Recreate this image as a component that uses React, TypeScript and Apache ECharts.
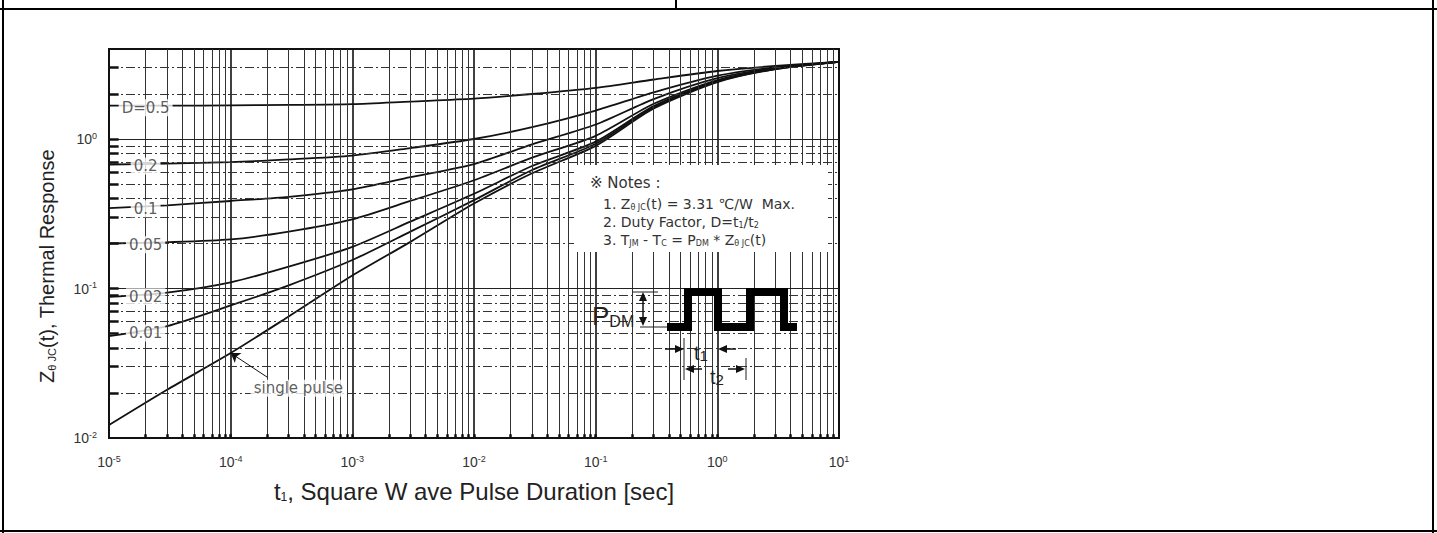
import React, { useEffect, useRef } from 'react';
import * as echarts from 'echarts';

// ---- data ----
const pulseDuration = [1e-5, 3e-5, 1e-4, 3e-4, 1e-3, 3e-3, 1e-2, 3e-2, 0.1, 0.3, 1, 3, 10];
const zD050 = [1.67, 1.67, 1.68, 1.69, 1.71, 1.78, 1.86, 2.0, 2.2, 2.5, 2.85, 3.08, 3.28];
const zD020 = [0.675, 0.685, 0.7, 0.73, 0.775, 0.87, 1.0, 1.2, 1.55, 2.05, 2.65, 3.02, 3.28];
const zD010 = [0.345, 0.36, 0.385, 0.41, 0.46, 0.555, 0.68, 0.92, 1.25, 1.85, 2.55, 2.98, 3.28];
const zD005 = [0.2, 0.204, 0.213, 0.24, 0.29, 0.385, 0.53, 0.75, 1.05, 1.72, 2.48, 2.96, 3.28];
const zD002 = [0.088, 0.094, 0.11, 0.14, 0.19, 0.28, 0.43, 0.66, 0.96, 1.66, 2.44, 2.95, 3.28];
const zD001 = [0.048, 0.056, 0.077, 0.105, 0.155, 0.24, 0.39, 0.62, 0.93, 1.63, 2.42, 2.94, 3.28];
const zSingle = [0.0122, 0.021, 0.037, 0.065, 0.122, 0.205, 0.37, 0.59, 0.9, 1.6, 2.4, 2.93, 3.28];

const curveNames = ['D=0.5', '0.2', '0.1', '0.05', '0.02', '0.01', 'single pulse'];
const curveValues = [zD050, zD020, zD010, zD005, zD002, zD001, zSingle];

// curve label anchors
const curveLabelT = 2e-5;
const curveLabelZ = [1.67, 0.68, 0.352, 0.202, 0.091, 0.052];
const singleLabel = { t: 3.6e-4, z: 0.0222 };
const singleArrowFrom = { t: 2.0e-4, z: 0.0255 };
const singleArrowTo = { t: 1.0e-4, z: 0.037 };

const xMin = 1e-5;
const xMax = 10;
const yMin = 0.01;
const yMax = 4;
const xDecades = [-5, -4, -3, -2, -1, 0];
const yDecades = [-2, -1, 0];
const multipliers = [1, 2, 3, 4, 5, 6, 7, 8, 9];

const FONT = '"Liberation Sans", Arial, sans-serif';
const WIDE = '"DejaVu Sans", sans-serif';

const expLabel = (v: number) => {
  const e = Math.log10(v);
  const r = Math.round(e);
  if (Math.abs(e - r) > 1e-6) return '';
  return `{b|10}{e|${r}}`;
};
const tickRich = {
  b: { fontSize: 14, color: '#333', fontFamily: FONT, lineHeight: 16 },
  e: { fontSize: 9, color: '#333', fontFamily: FONT, verticalAlign: 'top', lineHeight: 9 },
};

function buildGridLines() {
  const items: any[] = [];
  const tickStyle = { color: '#111', width: 2.5, type: 'solid' };
  xDecades.forEach((d) => {
    multipliers.forEach((m) => {
      const v = Number((m * Math.pow(10, d)).toPrecision(6));
      if (v <= xMin) return;
      items.push({
        xAxis: v,
        lineStyle: m === 1
          ? { color: '#111', width: 1.6, type: 'solid' }
          : { color: '#333', width: 1, type: 'solid' },
      });
      items.push([{ coord: [v, yMin], lineStyle: tickStyle }, { coord: [v, yMin * 1.06] }]);
    });
  });
  yDecades.forEach((d) => {
    multipliers.forEach((m) => {
      const v = Number((m * Math.pow(10, d)).toPrecision(6));
      if (v <= yMin || v >= yMax) return;
      items.push({
        yAxis: v,
        lineStyle: m === 1
          ? { color: '#222', width: 1.2, type: 'solid' }
          : { color: '#333', width: 1, type: [9, 3, 2, 3] },
      });
      items.push([{ coord: [xMin, v], lineStyle: tickStyle }, { coord: [xMin * 1.2, v] }]);
    });
  });
  return items;
}

export default function App() {
  const ref = useRef<HTMLDivElement>(null);

  useEffect(() => {
    if (!ref.current) return;
    const chart = echarts.init(ref.current, undefined, { renderer: 'svg' });

    const curveSeries = curveValues.map((vals, i) => ({
      name: curveNames[i],
      type: 'line',
      data: pulseDuration.map((t, j) => [t, vals[j]]),
      showSymbol: false,
      smooth: 0.25,
      silent: true,
      z: 3,
      lineStyle: { color: '#111', width: 1.8 },
      markLine: i === curveValues.length - 1
        ? {
            silent: true,
            precision: 10,
            symbol: ['none', 'arrow'],
            symbolSize: 9,
            label: { show: false },
            lineStyle: { color: '#111', width: 1, type: 'solid' },
            data: [[
              { coord: [singleArrowFrom.t, singleArrowFrom.z] },
              { coord: [singleArrowTo.t, singleArrowTo.z] },
            ]],
          }
        : undefined,
    }));

    const labelData: any[] = curveLabelZ.map((z, i) => [curveLabelT, z, curveNames[i]]);
    labelData.push([singleLabel.t, singleLabel.z, curveNames[6]]);

    const sub = (size: number, color = '#222', family = FONT) => ({ fontSize: size, fontFamily: family, color, verticalAlign: 'bottom', lineHeight: size });

    const option: any = {
      animation: false,
      grid: { left: 109, top: 49, width: 730, height: 389, show: true, borderColor: '#111', borderWidth: 2, backgroundColor: 'transparent' },
      xAxis: {
        type: 'log',
        logBase: 10,
        min: xMin,
        max: xMax,
        splitLine: { show: false },
        axisLine: { show: false },
        axisTick: { show: false },
        axisLabel: { formatter: expLabel, rich: tickRich, margin: 16, showMinLabel: true, showMaxLabel: true },
        name: 't{s|1}, Square W ave Pulse Duration [sec]',
        nameLocation: 'middle',
        nameGap: 41,
        nameTextStyle: {
          fontSize: 24,
          fontFamily: FONT,
          color: '#222',
          rich: { s: { fontSize: 12, fontFamily: FONT, color: '#222', verticalAlign: 'bottom', lineHeight: 14 } },
        },
      },
      yAxis: {
        type: 'log',
        logBase: 10,
        min: yMin,
        max: yMax,
        splitLine: { show: false },
        axisLine: { show: false },
        axisTick: { show: false },
        axisLabel: { formatter: expLabel, rich: tickRich, margin: 12, showMaxLabel: false },
      },
      series: [
        {
          name: 'grid',
          type: 'line',
          data: [[xMin, yMin]],
          showSymbol: false,
          silent: true,
          z: 1,
          lineStyle: { width: 0, opacity: 0 },
          markLine: {
            silent: true,
            precision: 10,
            symbol: ['none', 'none'],
            label: { show: false },
            emphasis: { disabled: true },
            data: buildGridLines(),
          },
        },
        ...curveSeries,
        {
          name: 'labels',
          type: 'scatter',
          data: labelData,
          symbolSize: 1,
          silent: true,
          zlevel: 1,
          z: 10,
          itemStyle: { color: 'rgba(0,0,0,0)' },
          label: {
            show: true,
            position: 'inside',
            offset: [0, 2],
            formatter: (p: any) => p.value[2],
            color: '#333',
            fontSize: 15,
            fontFamily: WIDE,
            backgroundColor: '#fff',
            padding: [1, 3],
          },
        },
      ],
      graphic: [
        // page table borders
        { type: 'line', z: 100, shape: { x1: 0, y1: 9, x2: 1437, y2: 9 }, style: { stroke: '#000', lineWidth: 2 } },
        { type: 'line', z: 100, shape: { x1: 3, y1: 0, x2: 3, y2: 533 }, style: { stroke: '#000', lineWidth: 2 } },
        { type: 'line', z: 100, shape: { x1: 1433, y1: 0, x2: 1433, y2: 533 }, style: { stroke: '#000', lineWidth: 2 } },
        { type: 'line', z: 100, shape: { x1: 0, y1: 531, x2: 1437, y2: 531 }, style: { stroke: '#000', lineWidth: 2 } },
        { type: 'line', z: 100, shape: { x1: 676, y1: 0, x2: 676, y2: 9 }, style: { stroke: '#000', lineWidth: 2 } },
        // y axis title
        {
          type: 'text', z: 100, x: 47, y: 266, rotation: Math.PI / 2,
          style: {
            text: 'Z{s|θ JC}(t), Thermal Response',
            fontSize: 20, fontFamily: FONT, fill: '#222', align: 'center', verticalAlign: 'middle',
            rich: { s: sub(11) },
          },
        },
        // notes box
        { type: 'rect', z: 100, shape: { x: 574, y: 165, width: 254, height: 87 }, style: { fill: '#fff' } },
        { type: 'text', z: 101, x: 590, y: 183, style: { text: '※ Notes :', fontSize: 15, fontFamily: WIDE, fill: '#333', align: 'left', verticalAlign: 'middle' } },
        { type: 'text', z: 101, x: 603, y: 204, style: { text: '1. Z{s|θ JC}(t) = 3.31 ℃/W  Max.', fontSize: 14, fontFamily: WIDE, fill: '#333', align: 'left', verticalAlign: 'middle', rich: { s: sub(8, '#333', WIDE) } } },
        { type: 'text', z: 101, x: 603, y: 222, style: { text: '2. Duty Factor, D=t{s|1}/t{s|2}', fontSize: 14, fontFamily: WIDE, fill: '#333', align: 'left', verticalAlign: 'middle', rich: { s: sub(8, '#333', WIDE) } } },
        { type: 'text', z: 101, x: 603, y: 240, style: { text: '3. T{s|JM} - T{s|C} = P{s|DM} * Z{s|θ JC}(t)', fontSize: 14, fontFamily: WIDE, fill: '#333', align: 'left', verticalAlign: 'middle', rich: { s: sub(8, '#333', WIDE) } } },
        // P_DM label
        { type: 'text', z: 101, x: 592, y: 316, style: { text: 'P{s|DM}', fontSize: 26, fontFamily: FONT, fill: '#222', align: 'left', verticalAlign: 'middle', rich: { s: { fontSize: 16, fontFamily: FONT, color: '#222', verticalAlign: 'bottom', lineHeight: 12 } } } },
        // PDM dimension arrow
        { type: 'line', z: 101, shape: { x1: 632, y1: 292, x2: 658, y2: 292 }, style: { stroke: '#222', lineWidth: 1 } },
        { type: 'line', z: 101, shape: { x1: 640, y1: 327, x2: 668, y2: 327 }, style: { stroke: '#222', lineWidth: 1 } },
        { type: 'line', z: 101, shape: { x1: 643, y1: 296, x2: 643, y2: 322 }, style: { stroke: '#111', lineWidth: 1.5 } },
        { type: 'polygon', z: 101, shape: { points: [[643, 292], [639, 301], [647, 301]] }, style: { fill: '#111' } },
        { type: 'polygon', z: 101, shape: { points: [[643, 326], [639, 317], [647, 317]] }, style: { fill: '#111' } },
        // pulse waveform
        {
          type: 'polyline', z: 101,
          shape: { points: [[667, 327], [688, 327], [688, 292], [718, 292], [718, 327], [750, 327], [750, 292], [784, 292], [784, 327], [797, 327]] },
          style: { stroke: '#000', lineWidth: 8, fill: 'none', lineJoin: 'miter', lineCap: 'butt' },
        },
        // t1 dimension
        { type: 'line', z: 101, shape: { x1: 684, y1: 338, x2: 684, y2: 380 }, style: { stroke: '#222', lineWidth: 1 } },
        { type: 'line', z: 101, shape: { x1: 746, y1: 358, x2: 746, y2: 380 }, style: { stroke: '#222', lineWidth: 1 } },
        { type: 'line', z: 101, shape: { x1: 665, y1: 349, x2: 677, y2: 349 }, style: { stroke: '#111', lineWidth: 1.5 } },
        { type: 'polygon', z: 101, shape: { points: [[684, 349], [675, 345], [675, 353]] }, style: { fill: '#111' } },
        { type: 'line', z: 101, shape: { x1: 736, y1: 349, x2: 725, y2: 349 }, style: { stroke: '#111', lineWidth: 1.5 } },
        { type: 'polygon', z: 101, shape: { points: [[718, 349], [727, 345], [727, 353]] }, style: { fill: '#111' } },
        { type: 'text', z: 101, x: 694, y: 353, style: { text: 't{s|1}', fontSize: 20, fontFamily: FONT, fill: '#222', align: 'left', verticalAlign: 'middle', rich: { s: { fontSize: 15, fontFamily: FONT, color: '#222', verticalAlign: 'bottom', lineHeight: 10 } } } },
        // t2 dimension
        { type: 'line', z: 101, shape: { x1: 702, y1: 369, x2: 692, y2: 369 }, style: { stroke: '#111', lineWidth: 1.5 } },
        { type: 'polygon', z: 101, shape: { points: [[685, 369], [694, 365], [694, 373]] }, style: { fill: '#111' } },
        { type: 'line', z: 101, shape: { x1: 728, y1: 369, x2: 738, y2: 369 }, style: { stroke: '#111', lineWidth: 1.5 } },
        { type: 'polygon', z: 101, shape: { points: [[745, 369], [736, 365], [736, 373]] }, style: { fill: '#111' } },
        { type: 'text', z: 101, x: 710, y: 377, style: { text: 't{s|2}', fontSize: 20, fontFamily: FONT, fill: '#222', align: 'left', verticalAlign: 'middle', rich: { s: { fontSize: 15, fontFamily: FONT, color: '#222', verticalAlign: 'bottom', lineHeight: 10 } } } },
      ],
    };

    chart.setOption(option);
    return () => chart.dispose();
  }, []);

  return (
    <div
      ref={ref}
      style={{ position: 'absolute', left: 0, top: 0, width: 1437, height: 533, background: '#fff' }}
    />
  );
}
